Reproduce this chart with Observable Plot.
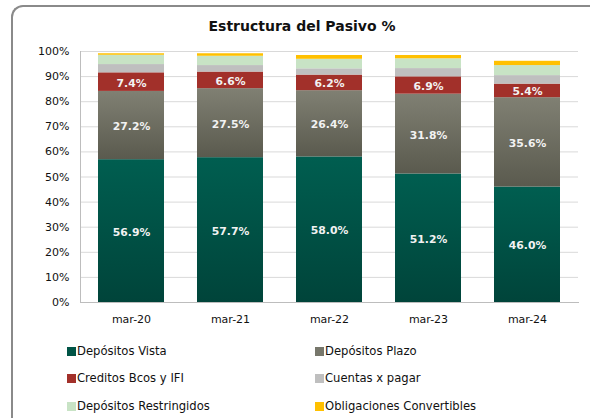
<!DOCTYPE html>
<html>
<head>
<meta charset="utf-8">
<script src="https://cdn.jsdelivr.net/npm/d3@7"></script>
<script src="https://cdn.jsdelivr.net/npm/@observablehq/plot@0.6"></script>
<style>
  html, body { margin: 0; padding: 0; background: #fff; }
  #wrap { position: relative; width: 590px; height: 418px; overflow: hidden; font-family: "DejaVu Sans", sans-serif; }
  #frame { position: absolute; left: 11px; top: 5px; width: 700px; height: 600px; border-top: 2px solid #8a8a8a; border-left: 2px solid #8a8a8a; border-top-left-radius: 12px; box-sizing: border-box; }
  #title { position: absolute; left: 0; width: 604px; top: 18px; text-align: center; font-weight: bold; font-size: 14px; color: #111; }
  #chart { position: absolute; left: 0; top: 0; }
  .lg { position: absolute; font-size: 11.6px; color: #111; white-space: nowrap; line-height: 14px; }
  .lg span.sw { display: inline-block; width: 9px; height: 9px; margin-right: 1px; vertical-align: -1px; }
</style>
</head>
<body>
<div id="wrap">
  <div id="frame"></div>
  <div id="chart"></div>
  <div id="title">Estructura del Pasivo %</div>
  <div id="legend"></div>
</div>
<script>
const categories = ["mar-20", "mar-21", "mar-22", "mar-23", "mar-24"];
const seriesNames = ["Depósitos Vista", "Depósitos Plazo", "Creditos Bcos y IFI", "Cuentas x pagar", "Depósitos Restringidos", "Obligaciones Convertibles"];
const depositosVista = [56.9, 57.7, 58.0, 51.2, 46.0];
const depositosPlazo = [27.2, 27.5, 26.4, 31.8, 35.6];
const creditosBcos = [7.4, 6.6, 6.2, 6.9, 5.4];
const cuentasPagar = [3.3, 2.6, 2.5, 3.3, 3.4];
const depositosRestringidos = [3.7, 3.7, 3.8, 3.9, 4.0];
const obligacionesConvertibles = [0.6, 1.0, 1.5, 1.3, 1.7];
const labelledSeries = ["Depósitos Vista", "Depósitos Plazo", "Creditos Bcos y IFI"];
const yTicks = [0, 10, 20, 30, 40, 50, 60, 70, 80, 90, 100];
const legendSwatches = ["#005446", "#77776b", "#a2302a", "#bfbfbf", "#c8e3c5", "#ffc000"];
const barFills = ["url(#gVista)", "url(#gPlazo)", "#a2302a", "#bfbfbf", "#c8e3c5", "#ffc000"];

const seriesValues = [depositosVista, depositosPlazo, creditosBcos, cuentasPagar, depositosRestringidos, obligacionesConvertibles];
const data = [];
seriesNames.forEach((s, i) => categories.forEach((c, j) => data.push({ date: c, series: s, value: seriesValues[i][j] })));

const chart = Plot.plot({
  width: 590,
  height: 336,
  marginTop: 51,
  marginBottom: 34,
  marginLeft: 80,
  marginRight: 12,
  style: { fontFamily: "DejaVu Sans, sans-serif", fontSize: "11px", color: "#111", background: "transparent" },
  x: { domain: categories, paddingInner: 0.33, paddingOuter: 0.165, label: null, tickSize: 0, tickPadding: 13 },
  y: { domain: [0, 100], ticks: yTicks, tickFormat: d => d + "%", label: null, tickSize: 0, tickPadding: 11 },
  color: { domain: seriesNames, range: barFills },
  marks: [
    Plot.gridY(yTicks, { stroke: "#d9d9d9", strokeOpacity: 1 }),
    Plot.barY(data, Plot.stackY({ x: "date", y: "value", z: "series", fill: "series", order: seriesNames })),
    Plot.frame({ anchor: "left", stroke: "#bdbdbd" }),
    Plot.frame({ anchor: "bottom", stroke: "#bdbdbd" }),
    Plot.text(data.filter(d => labelledSeries.includes(d.series)), Plot.stackY({
      x: "date", y: "value", z: "series", order: seriesNames,
      text: d => d.value.toFixed(1) + "%",
      fill: "#f2f2f2", fontWeight: "bold", fontSize: 10.8, dy: 1
    }))
  ]
});

const defs = document.createElementNS("http://www.w3.org/2000/svg", "defs");
defs.innerHTML = `
  <linearGradient id="gVista" x1="0" y1="0" x2="0" y2="1">
    <stop offset="0" stop-color="#005e50"/><stop offset="1" stop-color="#00443a"/>
  </linearGradient>
  <linearGradient id="gPlazo" x1="0" y1="0" x2="0" y2="1">
    <stop offset="0" stop-color="#808073"/><stop offset="1" stop-color="#5a5a4e"/>
  </linearGradient>`;
chart.insertBefore(defs, chart.firstChild);
document.getElementById("chart").appendChild(chart);

const legend = document.getElementById("legend");
const legendPos = [[67, 344], [315, 344], [67, 371], [315, 371], [67, 399], [315, 399]];
seriesNames.forEach((s, i) => {
  const el = document.createElement("div");
  el.className = "lg";
  el.style.left = legendPos[i][0] + "px";
  el.style.top = legendPos[i][1] + "px";
  el.innerHTML = `<span class="sw" style="background:${legendSwatches[i]}"></span>${s}`;
  legend.appendChild(el);
});
</script>
</body>
</html>
